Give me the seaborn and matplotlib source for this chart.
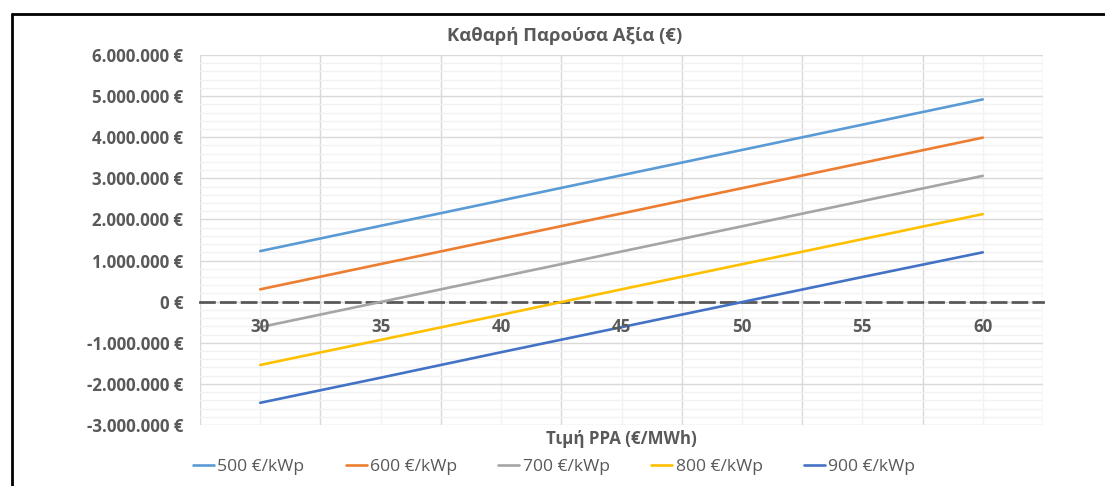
import pandas as pd
import matplotlib.pyplot as plt
import matplotlib.ticker as mticker
from matplotlib.lines import Line2D
import seaborn as sns

# PPA price (EUR/MWh) and NPV (EUR) per capex scenario
ppa_price = [30, 35, 40, 45, 50, 55, 60]
npv_500 = [1230000, 1845000, 2460000, 3075000, 3690000, 4305000, 4920000]
npv_600 = [300000, 915000, 1530000, 2145000, 2760000, 3375000, 3990000]
npv_700 = [-620000, -7000, 607000, 1220000, 1833000, 2447000, 3060000]
npv_800 = [-1540000, -930000, -320000, 300000, 910000, 1520000, 2130000]
npv_900 = [-2460000, -1850000, -1230000, -620000, -10000, 600000, 1200000]
series_names = ['500 €/kWp', '600 €/kWp', '700 €/kWp', '800 €/kWp', '900 €/kWp']
colors = ['#5B9BD5', '#ED7D31', '#A5A5A5', '#FFC000', '#4472C4']

frames = []
for name, vals in zip(series_names, [npv_500, npv_600, npv_700, npv_800, npv_900]):
    frames.append(pd.DataFrame({'ppa': ppa_price, 'npv': vals, 'scenario': name}))
df = pd.concat(frames, ignore_index=True)

sns.set_style('white')
plt.rcParams['font.family'] = ['Open Sans', 'DejaVu Sans']
text_color = '#595959'
fs = 12.2

fig = plt.figure(figsize=(11.05, 4.86), dpi=100)
ax = fig.add_axes([200 / 1105, 1 - 425 / 486, (1043 - 200) / 1105, (425 - 55) / 486])

sns.lineplot(data=df, x='ppa', y='npv', hue='scenario', palette=colors,
             linewidth=1.9, ax=ax, legend=False, zorder=3)

ax.set_xlim(27.5, 62.5)
ax.set_ylim(-3000000, 6000000)

# gridlines like the Excel chart
ax.xaxis.set_major_locator(mticker.MultipleLocator(5))
ax.set_xticks([27.5 + 5 * i for i in range(8)], minor=True)
ax.yaxis.set_major_locator(mticker.MultipleLocator(1000000))
ax.yaxis.set_minor_locator(mticker.MultipleLocator(200000))
ax.grid(which='minor', axis='y', color='#F2F2F2', lw=1)
ax.grid(which='major', axis='y', color='#D9D9D9', lw=1)
ax.grid(which='major', axis='x', color='#F2F2F2', lw=1)
ax.grid(which='minor', axis='x', color='#D9D9D9', lw=1)
ax.set_axisbelow(True)

for side in ['top', 'right', 'left']:
    ax.spines[side].set_visible(False)
ax.spines['bottom'].set_position(('data', 0))
ax.spines['bottom'].set_color(text_color)
ax.spines['bottom'].set_linewidth(2)
ax.spines['bottom'].set_linestyle((0, (5, 2.5)))
ax.spines['bottom'].set_zorder(2)

ax.yaxis.set_major_formatter(mticker.FuncFormatter(
    lambda v, pos: f"{int(round(v)):,}".replace(',', '.') + ' €'))
ax.tick_params(axis='both', which='both', length=0)
ax.tick_params(axis='y', pad=12, labelsize=fs, labelcolor=text_color)
for lbl in ax.get_yticklabels():
    lbl.set_fontweight('bold')

# x tick labels sit on top of the lines, next to the zero axis
ax.tick_params(axis='x', labelbottom=False)
for x in ppa_price:
    ax.annotate(str(x), xy=(x, 0), xytext=(0, -18), textcoords='offset points',
                ha='center', va='center', fontsize=fs, fontweight='bold',
                color=text_color, zorder=5)

ax.set_xlabel('')
ax.set_ylabel('')
fig.text(621 / 1105, 1 - 439 / 486, 'Τιμή PPA (€/MWh)', ha='center', va='center',
         fontsize=12.2, fontweight='bold', color=text_color)
fig.text(565 / 1105, 1 - 36 / 486, 'Καθαρή Παρούσα Αξία (€)', ha='center', va='center',
         fontsize=13.3, fontweight='bold', color=text_color)

handles = [Line2D([0], [0], color=c, lw=1.9) for c in colors]
leg = fig.legend(handles, series_names, loc='center', bbox_to_anchor=(554 / 1105, 1 - 467 / 486),
                 ncol=5, frameon=False, fontsize=12.6, handlelength=1.2, handletextpad=0.2,
                 columnspacing=2.35)
for t in leg.get_texts():
    t.set_color(text_color)

# outer frame of the screenshot
fig.add_artist(Line2D([12 / 1105, 12 / 1105], [0, 1 - 14 / 486], color='black', lw=2,
                      transform=fig.transFigure))
fig.add_artist(Line2D([12 / 1105, 1], [1 - 14 / 486, 1 - 14 / 486], color='black', lw=2,
                      transform=fig.transFigure))

fig.savefig('out.png', dpi=100)
